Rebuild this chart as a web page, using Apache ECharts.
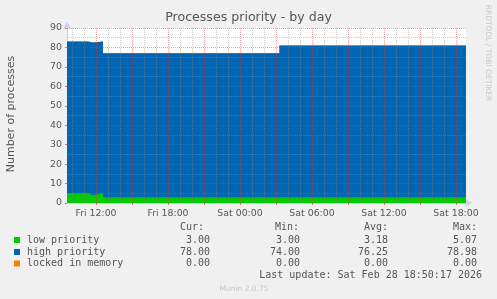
<!DOCTYPE html>
<html><head><meta charset="utf-8">
<script src="https://cdn.jsdelivr.net/npm/echarts@6/dist/echarts.min.js"></script>
<style>html,body{margin:0;padding:0;background:#f0f0f0;}#c{width:497px;height:299px;}</style>
</head><body><div id="c"></div>
<script>
// time in hours since Fri 00:00
const xStart = 9.5833, xEnd = 42.8333;
const changeHours = [9.5833, 11.33, 11.75, 12.58, 27.28, 42.8333];
const lowValues   = [5.0, 4.0, 5.0, 3.0, 3.0, 3.0];
const highValues  = [78.0, 78.5, 78.0, 74.0, 78.0, 78.0];
const lockedValues= [0, 0, 0, 0, 0, 0];
const labelHours  = [12, 18, 24, 30, 36, 42];
const tickLabels  = ['Fri 12:00','Fri 18:00','Sat 00:00','Sat 06:00','Sat 12:00','Sat 18:00'];
const majorHours  = [12, 15, 18, 21, 24, 27, 30, 33, 36, 39, 42];
const minorHours  = [10,11,13,14,16,17,19,20,22,23,25,26,28,29,31,32,34,35,37,38,40,41];
const yMajor = [10,20,30,40,50,60,70,80,90];
const yMinor = [5,15,25,35,45,55,65,75,85];
const seriesNames = ['low priority','high priority','locked in memory'];
const seriesColors = ['#00cc00','#0066b3','#ff8000'];
const curValues = ['3.00','78.00','0.00'];
const minValues = ['3.00','74.00','0.00'];
const avgValues = ['3.18','76.25','0.00'];
const maxValues = ['5.07','78.98','0.00'];

const mono = 'DejaVu Sans Mono';
const sans = 'DejaVu Sans';
// stacked totals (rrdtool STACK), built from the series arrays
const lowTop = changeHours.map((h,i)=>[h, lowValues[i]]);
const highTop = changeHours.map((h,i)=>[h, lowValues[i]+highValues[i]]);
const lockedTop = changeHours.map((h,i)=>[h, lowValues[i]+highValues[i]+lockedValues[i]]);

const minorStyle = {color:'rgba(140,140,140,0.45)', type:[1,1], width:1};
const majorStyle = {color:'rgba(220,60,60,0.45)', type:[1,1], width:1};
const gridLines = [
  ...minorHours.map(h=>({xAxis:h, lineStyle:minorStyle})),
  ...yMinor.map(v=>({yAxis:v, lineStyle:minorStyle})),
  ...majorHours.map(h=>({xAxis:h, lineStyle:majorStyle})),
  ...yMajor.map(v=>({yAxis:v, lineStyle:majorStyle})),
];

const graphics = [];
const rowY = [240, 252, 263.5];
seriesNames.forEach((n,i)=>{
  graphics.push({type:'rect', shape:{x:14, y:rowY[i]-3, width:6, height:6}, style:{fill:seriesColors[i]}});
  graphics.push({type:'text', style:{text:n, x:27, y:rowY[i], font:'10px '+mono, fill:'#555', verticalAlign:'middle'}});
  graphics.push({type:'text', style:{text:curValues[i], x:210, y:rowY[i], font:'10px '+mono, fill:'#555', align:'right', verticalAlign:'middle'}});
  graphics.push({type:'text', style:{text:minValues[i], x:300, y:rowY[i], font:'10px '+mono, fill:'#555', align:'right', verticalAlign:'middle'}});
  graphics.push({type:'text', style:{text:avgValues[i], x:388, y:rowY[i], font:'10px '+mono, fill:'#555', align:'right', verticalAlign:'middle'}});
  graphics.push({type:'text', style:{text:maxValues[i], x:477, y:rowY[i], font:'10px '+mono, fill:'#555', align:'right', verticalAlign:'middle'}});
});
[['Cur:',204],['Min:',299],['Avg:',388],['Max:',477]].forEach(([t,x])=>{
  graphics.push({type:'text', style:{text:t, x:x, y:227.5, font:'10px '+mono, fill:'#555', align:'right', verticalAlign:'middle'}});
});
graphics.push({type:'text', style:{text:'Last update: Sat Feb 28 18:50:17 2026', x:482, y:275, font:'10px '+mono, fill:'#555', align:'right', verticalAlign:'middle'}});
graphics.push({type:'text', style:{text:'Munin 2.0.75', x:244, y:289, font:'7.5px '+sans, fill:'#c8c8c8', align:'center', verticalAlign:'middle'}});
graphics.push({type:'text', style:{text:'Processes priority - by day', x:248.5, y:18, font:'12.6px '+sans, fill:'#555', align:'center', verticalAlign:'middle'}});
graphics.push({type:'text', x:11, y:114, rotation:Math.PI/2, style:{text:'Number of processes', x:0, y:0, font:'11px '+sans, fill:'#555', align:'center', verticalAlign:'middle'}});
graphics.push({type:'text', x:488, y:53, rotation:-Math.PI/2, style:{text:'RRDTOOL / TOBI OETIKER', x:0, y:0, font:'7.5px '+sans, fill:'#c8c8c8', align:'center', verticalAlign:'middle'}});

const areaSeries = (name, data, color, z) => ({name, type:'line', step:'end', symbol:'none', data,
  lineStyle:{width:0}, areaStyle:{color, opacity:1, origin:'start'}, z});

const chart = echarts.init(document.getElementById('c'), null, {renderer:'canvas'});
chart.setOption({
  animation:false,
  backgroundColor:'#f0f0f0',
  grid:{left:67, right:31, top:28, bottom:96, show:true, backgroundColor:'#ffffff', borderWidth:0},
  xAxis:{type:'value', min:xStart, max:xEnd,
    axisLine:{show:true, lineStyle:{color:'#c8ccee', width:1}, symbol:['none','arrow'], symbolSize:[6,7], symbolOffset:[0,6]},
    axisTick:{show:true, customValues:majorHours, length:2, lineStyle:{color:'#e07070'}},
    axisLabel:{customValues:labelHours, color:'#555', fontFamily:sans, fontSize:9.4, margin:6,
      formatter:v=>{const i=labelHours.findIndex(h=>Math.abs(h-v)<0.01); return i>=0?tickLabels[i]:'';}},
    splitLine:{show:false}},
  yAxis:{type:'value', min:0, max:90, interval:10,
    axisLine:{show:true, lineStyle:{color:'#c8ccee', width:1}, symbol:['none','arrow'], symbolSize:[6,7], symbolOffset:[0,6]},
    axisTick:{show:true, length:2, lineStyle:{color:'#e07070'}},
    axisLabel:{color:'#555', fontFamily:sans, fontSize:9.4, margin:5},
    splitLine:{show:false}},
  graphic:graphics,
  series:[
    areaSeries(seriesNames[2], lockedTop, seriesColors[2], 1),
    areaSeries(seriesNames[1], highTop, seriesColors[1], 2),
    areaSeries(seriesNames[0], lowTop, seriesColors[0], 3),
    {type:'line', data:[], z:5, silent:true, markLine:{silent:true, symbol:'none', label:{show:false}, animation:false, data:gridLines}}
  ]
});
</script></body></html>
